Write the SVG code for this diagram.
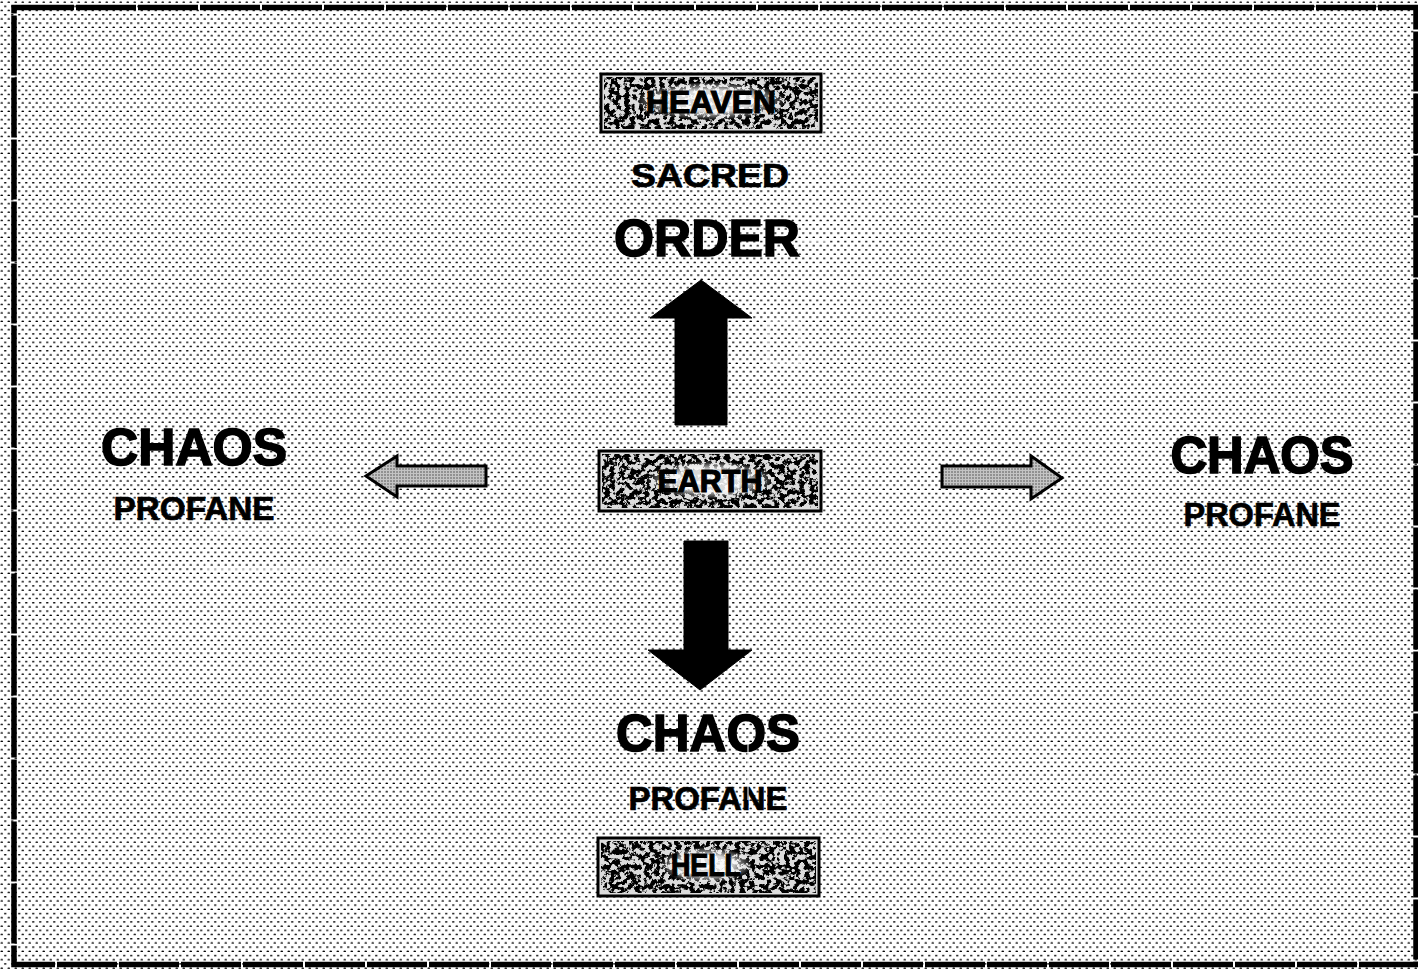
<svg xmlns="http://www.w3.org/2000/svg" width="1418" height="971" viewBox="0 0 1418 971">
<style>
.t{font-family:"Liberation Sans",Arial,sans-serif;font-weight:bold;fill:#000;text-anchor:middle}
.big{font-size:52px;stroke:#000;stroke-width:1.6px}
.mid{font-size:33px;stroke:#000;stroke-width:0.7px}
.lab{font-size:31px;stroke:#000;stroke-width:1.2px}
.box{fill:#dcdcdc;stroke:#000;stroke-width:3}
.arrow{fill:#000;stroke:#000;stroke-width:1}
.side{fill:url(#fine);stroke:#000;stroke-width:3;stroke-linejoin:miter}
.art{fill:none;stroke:#fff;stroke-width:1.3;opacity:0.8}
</style>
<defs>
<pattern id="dots" width="7" height="8.4" patternUnits="userSpaceOnUse">
<rect width="7" height="8.4" fill="#fff"/>
<ellipse cx="1.75" cy="2.1" rx="1.35" ry="0.8" fill="#000"/>
<ellipse cx="5.25" cy="6.3" rx="1.35" ry="0.8" fill="#000"/>
</pattern>
<pattern id="fine" width="3" height="3" patternUnits="userSpaceOnUse">
<rect width="3" height="3" fill="#c4c4c4"/>
<circle cx="1" cy="1" r="0.75" fill="#444"/>
</pattern>
<filter id="grain" x="0" y="0" width="100%" height="100%">
<feTurbulence type="fractalNoise" baseFrequency="0.2" numOctaves="4" seed="11" result="n"/>
<feColorMatrix in="n" type="matrix" values="0 0 0 0 0  0 0 0 0 0  0 0 0 0 0  -10 0 0 0 5.6" result="d"/>
<feComposite in="d" in2="SourceAlpha" operator="in"/>
</filter>
<radialGradient id="clear" cx="0.5" cy="0.5" r="0.5">
<stop offset="0.55" stop-color="#fff" stop-opacity="0.85"/>
<stop offset="1" stop-color="#fff" stop-opacity="0"/>
</radialGradient>
</defs>
<rect x="0" y="0" width="1418" height="971" fill="url(#dots)"/>
<rect x="14" y="7.5" width="1402" height="957" fill="none" stroke="#000" stroke-width="5.5" stroke-dasharray="60 2"/>

<g id="connectors">
<path id="arrow-up" class="arrow" d="M701,280 L752,318 L727,318 L727,425 L675,425 L675,318 L650,318 Z"/>
<path id="arrow-down" class="arrow" d="M684,541 L728,541 L728,650 L752,650 L700,690 L648,650 L684,650 Z"/>
<path id="arrow-left" class="side" d="M366,476 L397,456 L397,466 L486,466 L486,486 L397,486 L397,497 Z"/>
<path id="arrow-right" class="side" d="M1062,478 L1031,456 L1031,466 L942,466 L942,487 L1031,487 L1031,499 Z"/>
</g>

<g id="heaven">
<rect class="box" x="601" y="74" width="220" height="58"/>
<rect x="604" y="77" width="214" height="52" fill="#000" filter="url(#grain)"/>
<ellipse cx="711" cy="101" rx="76" ry="19" fill="url(#clear)"/>
<text class="t lab" x="711" y="113" textLength="130" lengthAdjust="spacingAndGlyphs">HEAVEN</text>
</g>
<g id="sacred-order">
<text class="t mid" x="710" y="187" font-size="37" textLength="158" lengthAdjust="spacingAndGlyphs">SACRED</text>
<text class="t big" x="707" y="256" textLength="186" lengthAdjust="spacingAndGlyphs">ORDER</text>
</g>
<g id="earth">
<rect class="box" x="599" y="451" width="222" height="60"/>
<rect x="602" y="454" width="216" height="54" fill="#000" filter="url(#grain)"/>
<ellipse cx="710" cy="480" rx="64" ry="19" fill="url(#clear)"/>
<text class="t lab" x="710" y="492" textLength="105" lengthAdjust="spacingAndGlyphs">EARTH</text>
</g>
<g id="chaos-bottom">
<text class="t big" x="708" y="751" textLength="184" lengthAdjust="spacingAndGlyphs">CHAOS</text>
<text class="t mid" x="708" y="810" textLength="159" lengthAdjust="spacingAndGlyphs">PROFANE</text>
</g>
<g id="hell">
<rect class="box" x="598" y="838" width="221" height="58"/>
<rect x="601" y="841" width="215" height="52" fill="#000" filter="url(#grain)"/>
<ellipse cx="706" cy="865" rx="46" ry="18" fill="url(#clear)"/>
<text class="t lab" x="706" y="876" textLength="70" lengthAdjust="spacingAndGlyphs">HELL</text>
</g>
<g id="chaos-left">
<text class="t big" x="194" y="465" textLength="186" lengthAdjust="spacingAndGlyphs">CHAOS</text>
<text class="t mid" x="194" y="520" textLength="161" lengthAdjust="spacingAndGlyphs">PROFANE</text>
</g>
<g id="chaos-right">
<text class="t big" x="1262" y="473" textLength="183" lengthAdjust="spacingAndGlyphs">CHAOS</text>
<text class="t mid" x="1262" y="526" textLength="157" lengthAdjust="spacingAndGlyphs">PROFANE</text>
</g>
<g id="artifacts">
<rect class="art" x="768" y="322" width="32" height="42"/>
<path class="art" d="M800,241 H830 M800,736 H830 M748,740 V800 M880,790 V840 M390,500 V530"/>
<rect class="art" x="206" y="531" width="148" height="38"/>
</g>
</svg>
